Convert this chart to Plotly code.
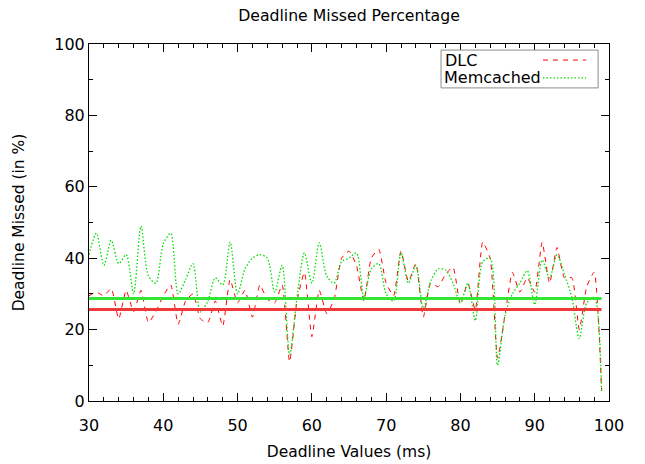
import plotly.graph_objects as go

# Deadline values (ms) and the percentage of requests that missed them
deadlines = list(range(30, 100))

dlc_missed = [
    29.5, 30.5, 29.5, 31.5, 23, 31, 25, 31, 22, 25,
    29.5, 32.5, 21.5, 28, 30, 23, 22, 28, 21, 34,
    27.5, 31, 23.5, 32.5, 28.5, 27.5, 32.5, 11, 28, 36,
    18, 31, 24.5, 28.5, 40, 42, 38, 28, 40, 42.5,
    33, 29.5, 42, 33.5, 38.5, 23.5, 33, 32, 35.5, 37.5,
    27, 33, 25.5, 44.5, 40, 12, 24, 36, 30.5, 34.5,
    30.5, 44.5, 33, 43, 34.5, 34.5, 20, 32, 36, 3,
]

memcached_missed = [
    41, 47, 38, 45, 38.5, 41, 30, 49, 35, 33,
    44, 47, 30, 34, 38.5, 25, 28, 34.5, 32.5, 44.5,
    30, 37, 40, 41, 40, 30.5, 38, 13, 29, 41.5,
    33, 44.3, 35, 33, 39, 40, 41.5, 29, 37, 38.5,
    30, 28, 41.5, 33, 38, 26, 33.5, 37, 36.7, 33,
    27.5, 33, 22.5, 39, 40, 10, 24, 30, 33, 36.5,
    27, 39.5, 34.5, 41, 35.5, 29, 17.5, 27.5, 29, 2.5,
]

# Reference levels drawn as solid horizontal lines
dlc_level = 25.6
memcached_level = 28.7

x_ticks = [30, 40, 50, 60, 70, 80, 90, 100]
y_ticks = [0, 20, 40, 60, 80, 100]

RED = "#ff0000"
GREEN = "#00dd00"
FONT = "DejaVu Sans"

fig = go.Figure()

fig.add_trace(go.Scatter(
    x=deadlines, y=dlc_missed, mode="lines", name="DLC",
    line=dict(color=RED, width=1, dash="5px,5px", shape="spline", smoothing=0.5),
))
fig.add_trace(go.Scatter(
    x=deadlines, y=memcached_missed, mode="lines", name="Memcached",
    line=dict(color=GREEN, width=1.3, dash="1.5px,2px", shape="spline", smoothing=0.8),
))
fig.add_trace(go.Scatter(
    x=[deadlines[0], deadlines[-1]], y=[dlc_level, dlc_level], mode="lines",
    line=dict(color="#f03838", width=3), showlegend=False,
))
fig.add_trace(go.Scatter(
    x=[deadlines[0], deadlines[-1]], y=[memcached_level, memcached_level], mode="lines",
    line=dict(color="#33e633", width=3), showlegend=False,
))

axis_common = dict(
    showline=True, linecolor="black", linewidth=1, mirror="allticks",
    ticks="inside", ticklen=8, tickcolor="black", tickwidth=1,
    showgrid=False, zeroline=False, automargin=False,
    tickfont=dict(family=FONT, size=16, color="black"),
)

fig.update_xaxes(
    range=[30, 100], tickvals=x_ticks, ticklabelstandoff=10,
    minor=dict(ticks="inside", ticklen=4, dtick=2, tickcolor="black", showgrid=False),
    title=dict(text="Deadline Values (ms)", font=dict(family=FONT, size=15.5, color="black"), standoff=11),
    **axis_common,
)
fig.update_yaxes(
    range=[0, 100], tickvals=y_ticks,
    minor=dict(ticks="inside", ticklen=4, dtick=10, tickcolor="black", showgrid=False),
    title=dict(text="Deadline Missed (in %)", font=dict(family=FONT, size=15.5, color="black"), standoff=25),
    **axis_common,
)

# gnuplot-style key: label on the left, line sample on the right
legend_shapes = [
    dict(type="rect", xref="paper", yref="paper", x0=0.677, x1=0.979, y0=0.877, y1=0.983,
         line=dict(color="#8c8c8c", width=1), fillcolor="white", layer="above"),
    dict(type="line", xref="paper", yref="paper", x0=0.873, x1=0.956, y0=0.955, y1=0.955,
         line=dict(color=RED, width=1, dash="5px,5px"), layer="above"),
    dict(type="line", xref="paper", yref="paper", x0=0.873, x1=0.956, y0=0.905, y1=0.905,
         line=dict(color=GREEN, width=1.3, dash="1.5px,2px"), layer="above"),
]
legend_labels = [
    dict(text="DLC", xref="paper", yref="paper", x=0.680, y=0.955, xanchor="left", yanchor="middle",
         showarrow=False, font=dict(family=FONT, size=16, color="black")),
    dict(text="Memcached", xref="paper", yref="paper", x=0.678, y=0.905, xanchor="left", yanchor="middle",
         showarrow=False, font=dict(family=FONT, size=16, color="black")),
]

fig.update_layout(
    width=645, height=464,
    margin=dict(l=89, r=36, t=44, b=63),
    paper_bgcolor="white", plot_bgcolor="white",
    showlegend=False,
    shapes=legend_shapes, annotations=legend_labels,
    title=dict(text="Deadline Missed Percentage", x=349 / 645, xref="container", xanchor="center",
               y=1 - 16 / 464, yref="container", yanchor="middle",
               font=dict(family=FONT, size=15.7, color="black")),
)

fig.write_html("out.html")
